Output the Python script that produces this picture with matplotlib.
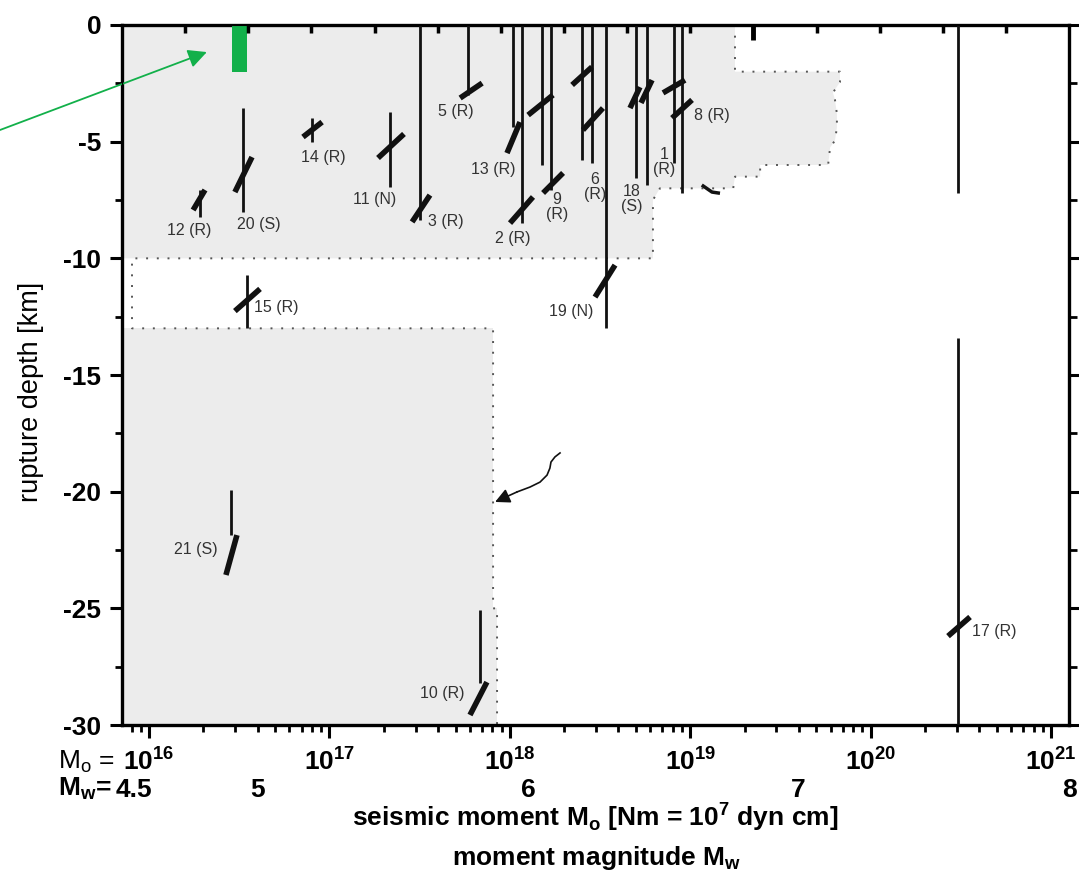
import numpy as np
import matplotlib
matplotlib.use("Agg")
import matplotlib.pyplot as plt
from matplotlib import font_manager
from matplotlib.ticker import FixedLocator, LogLocator, NullFormatter, MultipleLocator
from matplotlib.transforms import blended_transform_factory

names = {f.name for f in font_manager.fontManager.ttflist}
NARROW = "Liberation Sans Narrow" if "Liberation Sans Narrow" in names else "Liberation Sans"
plt.rcParams["font.family"] = [NARROW, "DejaVu Sans"]
plt.rcParams["axes.unicode_minus"] = False
plt.rcParams["mathtext.fontset"] = "custom"
plt.rcParams["mathtext.rm"] = NARROW
plt.rcParams["mathtext.bf"] = NARROW + ":bold"

# ── axis range: Mw 4.5 ... 8 ────────────────────────────────────────────────
MO_MIN, MO_MAX = 10 ** 15.85, 10 ** 21.1
mw_ticks = [4.5, 5, 6, 7, 8]
mw_labels = ["4.5", "5", "6", "7", "8"]

# ── depth ranges of the events (vertical bars) ─────────────────────────────
seg_mo = [1.91e16, 3.32e16, 8.0e16, 2.17e17, 3.18e17, 5.86e17, 1.04e18, 1.17e18,
          1.51e18, 1.69e18, 2.51e18, 2.85e18, 3.41e18, 5.0e18, 5.75e18, 8.13e18,
          9.0e18, 3.49e16, 2.84e16, 6.82e17, 3.05e20, 3.05e20]
seg_top = [-7.07, -3.56, -3.99, -3.73, 0, 0, 0, 0,
           0, 0, 0, 0, 0, 0, 0, 0,
           0, -10.71, -19.93, -25.07, 0, -13.4]
seg_bot = [-8.23, -8.01, -5.01, -6.94, -8.36, -3.0, -4.37, -8.49,
           -6.0, -7.07, -5.79, -5.91, -13.0, -6.56, -6.86, -5.91,
           -7.2, -12.99, -21.86, -28.2, -7.2, -30.0]

# ── fault plane symbols (slanted strokes) ───────────────────────────────────
fp_mo1 = [1.754e16, 2.99e16, 7.13e16, 1.858e17, 2.871e17, 5.30e17, 9.64e17, 1.002e18,
          1.262e18, 1.528e18, 2.213e18, 2.541e18, 2.965e18, 4.634e18, 5.333e18, 7.063e18,
          7.925e18, 2.99e16, 2.667e16, 6.01e17, 2.685e20]
fp_mo2 = [2.042e16, 3.72e16, 9.10e16, 2.588e17, 3.606e17, 7.02e17, 1.138e18, 1.343e18,
          1.734e18, 1.972e18, 2.851e18, 3.281e18, 3.828e18, 5.26e18, 6.138e18, 9.354e18,
          1.023e19, 4.12e16, 3.069e16, 7.46e17, 3.556e20]
fp_d1 = [-7.93, -7.16, -4.80, -5.70, -8.44, -3.13, -5.49, -8.49,
         -3.86, -7.2, -2.57, -4.5, -11.66, -3.56, -3.34, -2.91,
         -3.99, -12.26, -23.57, -29.57, -26.19]
fp_d2 = [-7.07, -5.66, -4.16, -4.67, -7.29, -2.49, -4.16, -7.37,
         -3.0, -6.34, -1.8, -3.56, -10.29, -2.66, -2.36, -2.36,
         -3.21, -11.31, -21.86, -28.16, -25.37]

# ── event labels ────────────────────────────────────────────────────────────
lab_text = ["12 (R)", "20 (S)", "14 (R)", "11 (N)", "3 (R)", "5 (R)", "13 (R)", "2 (R)",
            "9\n(R)", "6\n(R)", "18\n(S)", "1\n(R)", "8 (R)", "19 (N)", "15 (R)",
            "21 (S)", "10 (R)", "17 (R)"]
lab_mo = [1.66e16, 4.06e16, 9.2e16, 1.79e17, 4.43e17, 5.02e17, 8.07e17, 1.04e18,
          1.82e18, 2.96e18, 4.75e18, 7.14e18, 1.32e19, 2.18e18, 5.06e16,
          1.82e16, 4.21e17, 4.83e20]
lab_d = [-8.79, -8.53, -5.66, -7.46, -8.4, -3.69, -6.21, -9.13,
         -7.8, -6.94, -7.46, -5.87, -3.9, -12.26, -12.09,
         -22.46, -28.67, -26.01]

# ── shaded region outline (dotted) ──────────────────────────────────────────
bnd_mo = [1.770e19, 1.770e19, 6.76e19, 6.76e19, 6.18e19, 6.34e19, 6.50e19, 6.50e19,
          6.34e19, 5.96e19, 5.81e19, 2.44e19, 2.44e19, 1.770e19, 1.73e19, 6.79e18,
          6.21e18, 6.21e18, 8.04e15, 8.04e15, 8.07e17, 8.07e17, 8.49e17, 8.49e17]
bnd_d = [0, -2.0, -2.0, -2.45, -2.9, -3.2, -3.8, -4.4,
         -4.95, -5.25, -6.0, -6.0, -6.5, -6.5, -7.0, -7.0,
         -7.5, -10.0, -10.0, -13.0, -13.0, -25.0, -25.0, -30.0]
SPLIT = 19  # first point of the lower (deep) shaded block

# green marker + annotation arrows
green_mo = [2.88e16, 3.49e16]
green_d = [0, -2.0]
curl_mo = [1.897e18, 1.778e18, 1.690e18, 1.667e18, 1.607e18, 1.469e18, 1.294e18, 1.096e18]
curl_d = [-18.34, -18.51, -18.73, -18.99, -19.29, -19.59, -19.8, -20.01]
curl_tip = (8.28e17, -20.44)

fig = plt.figure(figsize=(10.79, 8.80), dpi=100)
ax = fig.add_axes([0.1131, 0.1761, 0.8777, 0.7955])
ax.set_xscale("log")
ax.set_xlim(MO_MIN, MO_MAX)
ax.set_ylim(-30, 0)

GRAY = "#ececec"
up_x = [MO_MIN] + bnd_mo[:SPLIT] + [MO_MIN]
up_y = [0] + bnd_d[:SPLIT] + [-10.0]
lo_x = [MO_MIN] + bnd_mo[SPLIT:] + [MO_MIN]
lo_y = [-13.0] + bnd_d[SPLIT:] + [-30.0]
ax.fill(up_x, up_y, color=GRAY, lw=0, zorder=0)
ax.fill(lo_x, lo_y, color=GRAY, lw=0, zorder=0)
ax.plot(bnd_mo, bnd_d, color="#555555", lw=1.4, ls=(0, (1, 4.5)), zorder=1)

# events
ax.vlines(seg_mo, seg_bot, seg_top, color="#111111", lw=2.0, zorder=3)
for x1, x2, d1, d2 in zip(fp_mo1, fp_mo2, fp_d1, fp_d2):
    ax.plot([x1, x2], [d1, d2], color="#111111", lw=4.0, solid_capstyle="butt", zorder=4)
for t, x, d in zip(lab_text, lab_mo, lab_d):
    ax.text(x, d, t, ha="center", va="center", fontsize=11.5, color="#333333",
            family=["Liberation Sans", "DejaVu Sans"], linespacing=1.05, zorder=5)

# green marker and arrow
ax.fill_betweenx(green_d, green_mo[0], green_mo[1], color="#12b04a", lw=0, zorder=5)
ax.annotate("", xy=(2.09e16, -1.16), xytext=(0.0, 1 - 130 / 880),
            textcoords="figure fraction", annotation_clip=False,
            arrowprops=dict(arrowstyle="-|>", color="#12b04a", lw=1.3,
                            mutation_scale=28, shrinkA=0, shrinkB=0))

# curly arrow onto the shaded boundary
ax.plot(curl_mo, curl_d, color="#111111", lw=1.2, zorder=5, solid_joinstyle="round")
ax.annotate("", xy=curl_tip, xytext=(curl_mo[-1], curl_d[-1]),
            arrowprops=dict(arrowstyle="-|>", color="#111111", lw=1.2,
                            mutation_scale=22, shrinkA=0, shrinkB=0))
ax.plot([1.18e19, 1.32e19, 1.43e19], [-6.9, -7.16, -7.2], color="#111111", lw=2.5, zorder=5)

# spines and ticks
for s in ax.spines.values():
    s.set_linewidth(2.4)
ax.xaxis.set_major_locator(LogLocator(base=10, numticks=10))
ax.xaxis.set_minor_locator(LogLocator(base=10, subs=np.arange(2, 10), numticks=10))
ax.xaxis.set_minor_formatter(NullFormatter())
ax.yaxis.set_major_locator(MultipleLocator(5))
ax.yaxis.set_minor_locator(MultipleLocator(2.5))
ax.tick_params(axis="x", which="major", direction="out", length=9, width=2.2,
               labelsize=19, pad=8)
ax.tick_params(axis="x", which="minor", direction="out", length=5, width=2.0)
ax.tick_params(axis="y", which="major", direction="out", length=9, width=2.2,
               labelsize=19, pad=6, right=True)
ax.tick_params(axis="y", which="minor", direction="out", length=5, width=2.0, right=True)
for lab in ax.get_xticklabels() + ax.get_yticklabels():
    lab.set_fontweight("bold")
# right-hand ticks point inwards
for t in ax.yaxis.get_major_ticks():
    t.tick2line.set_marker(matplotlib.lines.TICKRIGHT)
    t.tick2line.set_markersize(11)
for t in ax.yaxis.get_minor_ticks():
    t.tick2line.set_marker(matplotlib.lines.TICKRIGHT)
    t.tick2line.set_markersize(6)
ax.tick_params(axis="y", which="both", right=True)

# top axis: 15 even divisions, ticks inwards
ax2 = ax.twiny()
ax2.set_xscale("log")
ax2.set_xlim(MO_MIN, MO_MAX)
top_pos = np.logspace(15.85, 21.1, 16)[1:-1]
ax2.xaxis.set_major_locator(FixedLocator([top_pos[9]]))
ax2.xaxis.set_minor_locator(FixedLocator(np.delete(top_pos, 9)))
ax2.xaxis.set_major_formatter(NullFormatter())
ax2.xaxis.set_minor_formatter(NullFormatter())
ax2.tick_params(axis="x", which="major", direction="in", length=11, width=3.5)
ax2.tick_params(axis="x", which="minor", direction="in", length=6, width=2.5)

ax.set_ylabel("rupture depth [km]", fontsize=19.5)
ax.yaxis.set_label_coords(-0.082, 0.476)

# magnitude row and axis titles
trans = blended_transform_factory(ax.transData, ax.transAxes)
for mw, lab in zip(mw_ticks, mw_labels):
    dx = 0.0125 if lab == "4.5" else 0.0
    x = 10 ** (1.5 * mw + 9.1) * 10 ** (dx * 5.25)
    ax.text(x, -0.093, lab, transform=trans, ha="center", va="center",
            fontsize=19, fontweight="bold", clip_on=False)
fig.text(58 / 1079, 1 - 762 / 880, r"M$_{\mathdefault{o}}$ =", fontsize=19,
         ha="left", va="center")
fig.text(58 / 1079, 1 - 789 / 880, r"M$_{\mathdefault{w}}$=", fontsize=19,
         fontweight="bold", ha="left", va="center")
fig.text(595 / 1079, 1 - 817 / 880,
         r"seismic moment M$_{\mathdefault{o}}$ [Nm = 10$^{\mathdefault{7}}$ dyn cm]",
         fontsize=19, fontweight="bold", ha="center", va="center")
fig.text(597 / 1079, 1 - 858 / 880, r"moment magnitude M$_{\mathdefault{w}}$",
         fontsize=19, fontweight="bold", ha="center", va="center")

fig.savefig("out.png", dpi=100)
